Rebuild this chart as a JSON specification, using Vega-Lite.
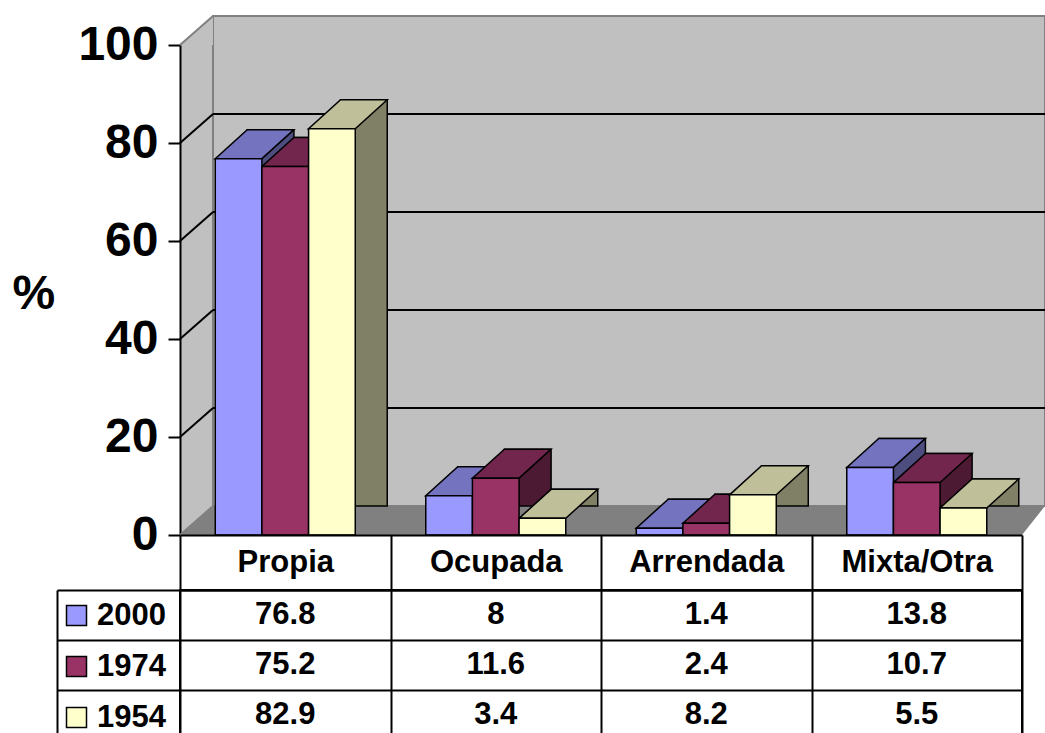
{
  "$schema": "https://vega.github.io/schema/vega-lite/v6.json",
  "padding": {"left": 12, "top": 15, "right": 0, "bottom": 0},
  "autosize": {"type": "pad"},
  "config": {"font": "Liberation Sans", "view": {"stroke": null}},
  "datasets": {
    "v": [
      {"cat": "Propia", "year": "2000", "value": 76.8},
      {"cat": "Ocupada", "year": "2000", "value": 8},
      {"cat": "Arrendada", "year": "2000", "value": 1.4},
      {"cat": "Mixta/Otra", "year": "2000", "value": 13.8},
      {"cat": "Propia", "year": "1974", "value": 75.2},
      {"cat": "Ocupada", "year": "1974", "value": 11.6},
      {"cat": "Arrendada", "year": "1974", "value": 2.4},
      {"cat": "Mixta/Otra", "year": "1974", "value": 10.7},
      {"cat": "Propia", "year": "1954", "value": 82.9},
      {"cat": "Ocupada", "year": "1954", "value": 3.4},
      {"cat": "Arrendada", "year": "1954", "value": 8.2},
      {"cat": "Mixta/Otra", "year": "1954", "value": 5.5}
    ],
    "grid": [{"v": 20}, {"v": 40}, {"v": 60}, {"v": 80}],
    "edge": [{"v": 0}, {"v": 100}]
  },
  "bounds": "flush",
  "spacing": 55,
  "resolve": {"scale": {"x": "independent", "y": "independent"}},
  "vconcat": [
    {
      "width": 842,
      "height": 490,
      "view": {"fill": "#C0C0C0", "stroke": null},
      "layer": [
        {
          "data": {"values": [{}]},
          "mark": {"type": "rect", "fill": "#C0C0C0", "stroke": "#808080", "strokeWidth": 2, "xOffset": -2.25, "x2Offset": 58.25, "yOffset": -29, "y2Offset": -29},
          "encoding": {
            "x": {"datum": "Propia", "type": "nominal", "bandPosition": 0},
            "x2": {"datum": "Mixta/Otra", "bandPosition": 1},
            "y": {
              "datum": 0, "type": "quantitative",
              "scale": {"domain": [0, 100], "nice": false},
              "axis": {
                "values": [0, 20, 40, 60, 80, 100],
                "grid": false,
                "title": "%",
                "titleAngle": 0, "titleAlign": "left", "titleBaseline": "alphabetic",
                "titleX": -168, "titleY": 263,
                "titleFontSize": 48, "titleFontWeight": "bold", "titleColor": "black",
                "labelFontSize": 48, "labelFontWeight": "bold", "labelColor": "black",
                "labelPadding": 10,
                "tickSize": 12, "tickWidth": 2, "tickColor": "black",
                "domainColor": "black", "domainWidth": 2
              }
            },
            "y2": {"datum": 100}
          }
        },
        {
          "data": {"values": [{}]},
          "mark": {"type": "point", "shape": "M-1,0.879L1,-0.879L1,0.879Z", "size": 1089, "filled": true, "fill": "#C0C0C0", "opacity": 1, "strokeWidth": 0, "xOffset": -18.75, "yOffset": -14.5},
          "encoding": {
            "x": {"datum": "Propia", "type": "nominal", "bandPosition": 0},
            "y": {"datum": 100, "type": "quantitative"}
          }
        },
        {
          "data": {"name": "grid"},
          "mark": {"type": "rule", "color": "black", "strokeWidth": 2, "xOffset": -2.25, "x2Offset": 58.25, "yOffset": -29, "y2Offset": -29},
          "encoding": {
            "x": {"datum": "Propia", "type": "nominal", "bandPosition": 0},
            "x2": {"datum": "Mixta/Otra", "bandPosition": 1},
            "y": {"field": "v", "type": "quantitative"},
            "y2": {"field": "v"}
          }
        },
        {
          "data": {"name": "grid"},
          "mark": {"type": "rule", "color": "black", "strokeWidth": 2, "xOffset": -35.25, "x2Offset": -2.25, "y2Offset": -29},
          "encoding": {
            "x": {"datum": "Propia", "type": "nominal", "bandPosition": 0},
            "x2": {"datum": "Propia", "bandPosition": 0},
            "y": {"field": "v", "type": "quantitative"},
            "y2": {"field": "v"}
          }
        },
        {
          "data": {"values": [{}]},
          "mark": {"type": "rect", "fill": "#808080", "xOffset": -2.25, "x2Offset": 35.25, "y2Offset": -29},
          "encoding": {
            "x": {"datum": "Propia", "type": "nominal", "bandPosition": 0},
            "x2": {"datum": "Mixta/Otra", "bandPosition": 1},
            "y": {"datum": 0, "type": "quantitative"},
            "y2": {"datum": 0}
          }
        },
        {
          "data": {"values": [{}]},
          "mark": {"type": "point", "shape": "M-1,0.879L1,0.879L1,-0.879Z", "size": 1089, "filled": true, "fill": "#808080", "opacity": 1, "strokeWidth": 0, "xOffset": -18.75, "yOffset": -14.5},
          "encoding": {
            "x": {"datum": "Propia", "type": "nominal", "bandPosition": 0},
            "y": {"datum": 0, "type": "quantitative"}
          }
        },
        {
          "data": {"values": [{}]},
          "mark": {"type": "point", "shape": "M-0.697,0.879L-0.697,-0.879L0.697,-0.879Z", "size": 1089, "filled": true, "fill": "#808080", "opacity": 1, "strokeWidth": 0, "xOffset": 46.75, "yOffset": -14.5},
          "encoding": {
            "x": {"datum": "Mixta/Otra", "type": "nominal", "bandPosition": 1},
            "y": {"datum": 0, "type": "quantitative"}
          }
        },
        {
          "data": {"name": "edge"},
          "mark": {"type": "rule", "color": "#808080", "strokeWidth": 2, "xOffset": -35.25, "x2Offset": -2.25, "y2Offset": -29},
          "encoding": {
            "x": {"datum": "Propia", "type": "nominal", "bandPosition": 0},
            "x2": {"datum": "Propia", "bandPosition": 0},
            "y": {"field": "v", "type": "quantitative"},
            "y2": {"field": "v"}
          }
        },
        {
          "data": {"name": "v"},
          "mark": {"type": "bar", "stroke": "black", "strokeWidth": 1.5, "yOffset": -29, "y2Offset": -29},
          "encoding": {
            "x": {
              "field": "cat", "type": "nominal",
              "sort": ["Propia", "Ocupada", "Arrendada", "Mixta/Otra"],
              "scale": {"paddingInner": 0.335, "paddingOuter": 0.1675},
              "axis": {"labels": false, "ticks": false, "title": null, "grid": false, "domainColor": "black", "domainWidth": 2}
            },
            "xOffset": {"field": "year", "type": "nominal", "sort": ["2000", "1974", "1954"], "scale": {"range": [32, 172]}},
            "y": {"field": "value", "type": "quantitative"},
            "color": {"field": "year", "type": "nominal", "scale": {"domain": ["2000", "1974", "1954"], "range": ["#4D4D80", "#4D1A33", "#808066"]}, "legend": null}
          }
        },
        {
          "data": {"name": "v"},
          "mark": {"type": "point", "shape": "M-1,0L1,0L2.371,-1.243L0.371,-1.243Z", "size": 2178, "filled": true, "opacity": 1, "stroke": "black", "strokeWidth": 1.5},
          "encoding": {
            "x": {"field": "cat", "type": "nominal", "sort": ["Propia", "Ocupada", "Arrendada", "Mixta/Otra"]},
            "xOffset": {"field": "year", "type": "nominal", "sort": ["2000", "1974", "1954"], "scale": {"range": [0, 140]}},
            "y": {"field": "value", "type": "quantitative"},
            "color": {"field": "year", "type": "nominal", "scale": {"domain": ["2000", "1974", "1954"], "range": ["#7373BF", "#73264D", "#BFBF99"]}, "legend": null}
          }
        },
        {
          "data": {"name": "v"},
          "mark": {"type": "bar", "stroke": "black", "strokeWidth": 1.5},
          "encoding": {
            "x": {"field": "cat", "type": "nominal", "sort": ["Propia", "Ocupada", "Arrendada", "Mixta/Otra"]},
            "xOffset": {"field": "year", "type": "nominal", "sort": ["2000", "1974", "1954"], "scale": {"range": [0, 140]}},
            "y": {"field": "value", "type": "quantitative"},
            "color": {
              "field": "year", "type": "nominal",
              "scale": {"domain": ["2000", "1974", "1954"], "range": ["#9999FF", "#993366", "#FFFFCC"]},
              "legend": {
                "title": null, "orient": "none", "legendX": -119, "legendY": 555, "padding": 0,
                "symbolType": "square", "symbolSize": 400, "symbolStrokeColor": "black", "symbolStrokeWidth": 1.5, "symbolOpacity": 1,
                "labelFontSize": 31, "labelFontWeight": "bold", "labelColor": "black", "labelOffset": 5,
                "rowPadding": 19
              }
            }
          }
        }
      ],
      "resolve": {"scale": {"xOffset": "independent", "color": "independent"}}
    },
    {
      "width": 842,
      "height": 150,
      "view": {"stroke": "black", "strokeWidth": 2, "fill": "white"},
      "data": {"name": "v"},
      "mark": {"type": "text", "fontSize": 31, "fontWeight": "bold", "baseline": "middle", "color": "black"},
      "encoding": {
        "x": {
          "field": "cat", "type": "nominal",
          "sort": ["Propia", "Ocupada", "Arrendada", "Mixta/Otra"],
          "scale": {"paddingInner": 0, "paddingOuter": 0},
          "axis": {
            "orient": "top", "title": null,
            "labelFontSize": 31, "labelFontWeight": "bold", "labelColor": "black", "labelAngle": 0,
            "labelPadding": -27, "labelBaseline": "middle",
            "tickBand": "extent", "tickSize": 55, "tickColor": "black", "tickWidth": 2,
            "domainColor": "black", "domainWidth": 2,
            "grid": true, "gridColor": "black", "gridWidth": 2, "gridOpacity": 1
          }
        },
        "y": {
          "field": "year", "type": "nominal",
          "sort": ["2000", "1974", "1954"],
          "scale": {"paddingInner": 0, "paddingOuter": 0},
          "axis": {
            "title": null, "labels": false, "offset": 123,
            "tickBand": "extent", "tickSize": -123, "tickColor": "black", "tickWidth": 2,
            "domainColor": "black", "domainWidth": 2,
            "grid": true, "gridColor": "black", "gridWidth": 2, "gridOpacity": 1
          }
        },
        "text": {"field": "value", "type": "nominal"}
      }
    }
  ]
}
